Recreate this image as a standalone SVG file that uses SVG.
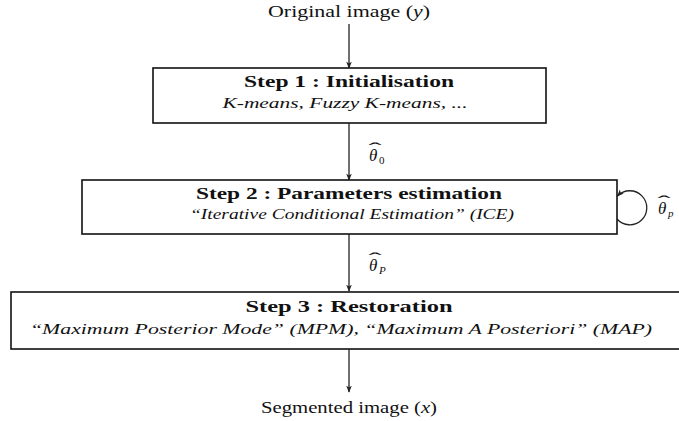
<svg xmlns="http://www.w3.org/2000/svg" width="679" height="421" viewBox="0 0 679 421">
<style>
.box{fill:#fff;stroke:#111;stroke-width:1.6}
.edge{fill:none;stroke:#222;stroke-width:1.3}
.t{fill:#111;text-anchor:middle}
.b{font-weight:bold;font-size:16px}
.i{font-style:italic;font-size:15.5px}
.r{font-size:16px}
.m{font-style:italic;font-size:17px;fill:#111}
.h{font-style:normal;font-size:16px}
.s{font-size:11px}
</style>
<defs>
<marker id="arr" viewBox="0 0 10 10" refX="9" refY="5" markerWidth="7" markerHeight="7" markerUnits="userSpaceOnUse" orient="auto">
<path d="M0,1 L10,5 L0,9 L2.5,5 Z" fill="#222"/>
</marker>
</defs>
<g id="connectors" font-family="'Liberation Serif', 'DejaVu Serif', serif">
<line class="edge" x1="349" y1="24" x2="349" y2="68" marker-end="url(#arr)"/>
<line class="edge" x1="349" y1="123" x2="349" y2="180" marker-end="url(#arr)"/>
<line class="edge" x1="349" y1="234" x2="349" y2="291" marker-end="url(#arr)"/>
<line class="edge" x1="349" y1="349" x2="349" y2="392" marker-end="url(#arr)"/>
<path class="edge" d="M617 219 A17 17 0 1 0 617.5 196" marker-end="url(#arr)"/>
<text class="m" x="369" y="161">θ<tspan class="h" x="368.5" y="154" textLength="13" lengthAdjust="spacingAndGlyphs">ˆ</tspan><tspan class="s" x="379" y="164" font-style="normal">0</tspan></text>
<text class="m" x="369" y="271">θ<tspan class="h" x="368.5" y="264" textLength="13" lengthAdjust="spacingAndGlyphs">ˆ</tspan><tspan class="s" x="379" y="274">P</tspan></text>
<text class="m" x="658" y="214">θ<tspan class="h" x="657.5" y="207" textLength="13" lengthAdjust="spacingAndGlyphs">ˆ</tspan><tspan class="s" x="668" y="217">p</tspan></text>
</g>
<g id="input" font-family="'Liberation Serif', 'DejaVu Serif', serif">
<text class="t r" x="349" y="17" textLength="162" lengthAdjust="spacingAndGlyphs">Original image (<tspan font-style="italic">y</tspan>)</text>
</g>
<g id="step1" font-family="'Liberation Serif', 'DejaVu Serif', serif">
<rect class="box" x="153" y="68" width="393" height="55"/>
<text class="t b" x="349" y="87" textLength="210" lengthAdjust="spacingAndGlyphs">Step 1 : Initialisation</text>
<text class="t i" x="345" y="108" textLength="245" lengthAdjust="spacingAndGlyphs">K-means, Fuzzy K-means, ...</text>
</g>
<g id="step2" font-family="'Liberation Serif', 'DejaVu Serif', serif">
<rect class="box" x="82" y="180" width="535" height="54"/>
<text class="t b" x="349" y="199" textLength="306" lengthAdjust="spacingAndGlyphs">Step 2 : Parameters estimation</text>
<text class="t i" x="352" y="219" textLength="324" lengthAdjust="spacingAndGlyphs">“Iterative Conditional Estimation” (ICE)</text>
</g>
<g id="step3" font-family="'Liberation Serif', 'DejaVu Serif', serif">
<rect class="box" x="11" y="292" width="676" height="57"/>
<text class="t b" x="349" y="312" textLength="207" lengthAdjust="spacingAndGlyphs">Step 3 : Restoration</text>
<text class="t i" x="341" y="334" textLength="622" lengthAdjust="spacingAndGlyphs">“Maximum Posterior Mode” (MPM), “Maximum A Posteriori” (MAP)</text>
</g>
<g id="output" font-family="'Liberation Serif', 'DejaVu Serif', serif">
<text class="t r" x="349" y="413" textLength="176" lengthAdjust="spacingAndGlyphs">Segmented image (<tspan font-style="italic">x</tspan>)</text>
</g>
</svg>
